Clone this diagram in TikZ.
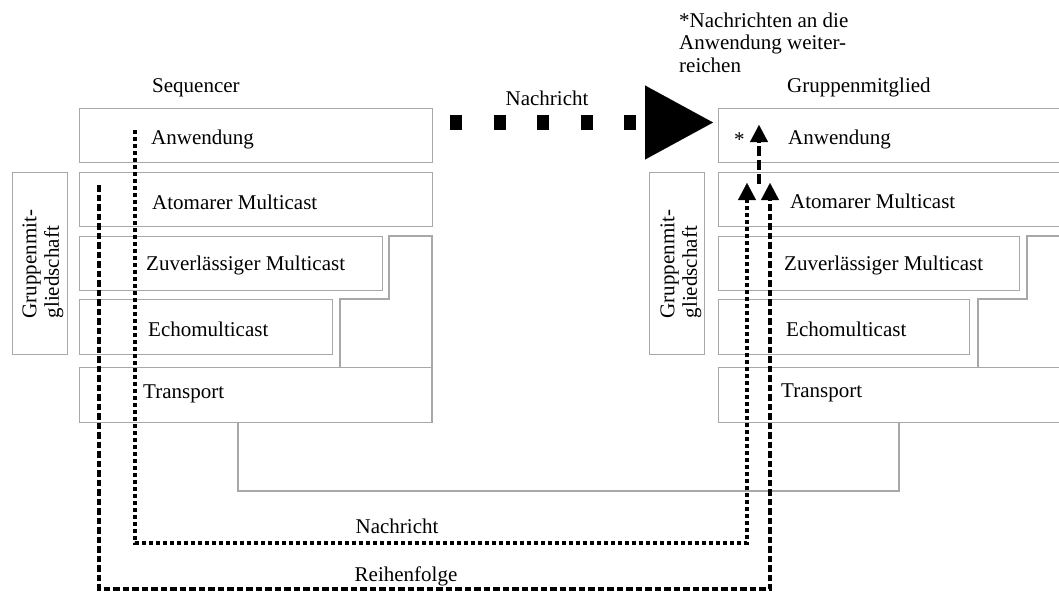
\documentclass[tikz,border=0pt]{standalone}
\usepackage{fontspec}
\setmainfont{Liberation Serif}
\usetikzlibrary{arrows.meta}
\definecolor{boxgray}{RGB}{168,168,168}
\begin{document}
\begin{tikzpicture}[x=1pt,y=-1pt,
  font=\fontsize{21}{22.5}\selectfont,
  layer/.style n args={2}{draw=boxgray, line width=1.2pt, anchor=north west,
    inner sep=0pt, minimum width=#1, minimum height=#2},
  outline/.style={draw=boxgray, line width=1.2pt},
  lbl/.style={anchor=base west, inner sep=0pt},
  clbl/.style={anchor=base, inner sep=0pt},
  sidelbl/.style={rotate=90, align=left, anchor=west, inner sep=0pt},
  msgline/.style={line width=3.5pt, dash pattern=on 4pt off 3pt,
    -{Triangle[width=18pt,length=17pt,line width=0.1pt]}},
  ordline/.style={line width=4pt, dash pattern=on 6.5pt off 3pt,
    -{Triangle[width=18pt,length=17pt,line width=0.1pt]}},
  fwdline/.style={line width=4pt, dash pattern=on 10pt off 4pt,
    -{Triangle[width=18pt,length=17pt,line width=0.1pt]}},
  netline/.style={line width=15pt, dash pattern=on 12pt off 31.5pt,
    -{Triangle[width=74pt,length=68pt,line width=0.1pt]}}]
\useasboundingbox (0,0) rectangle (1059,592);
\clip (0,0) rectangle (1059,592);

% stepped outlines behind the layer stacks
\draw[outline] (340,367) -- (340,299) -- (389,299) -- (389,236) -- (432,236) -- (432,422);
\draw[outline] (978,367) -- (978,299) -- (1027,299) -- (1027,236) -- (1070,236);
\draw[outline] (238,422) -- (238,491) -- (899,491) -- (899,422);

% Sequencer stack
\node[lbl] (seqT) at (152,92) {Sequencer};
\node[layer={353pt}{54pt}] (sAnw) at (79,108) {};
\node[layer={353pt}{54pt}] (sAto) at (79,172) {};
\node[layer={303pt}{54pt}] (sZuv) at (79,236) {};
\node[layer={253pt}{55pt}] (sEcho) at (79,299) {};
\node[layer={353pt}{55pt}] (sTra) at (79,367) {};
\node[layer={55pt}{182pt}] (sGrp) at (12,172) {};
\node[lbl] (sAnwT) at (151,144) {Anwendung};
\node[lbl] (sAtoT) at (152,209) {Atomarer Multicast};
\node[lbl] (sZuvT) at (146,270) {Zuverlässiger Multicast};
\node[lbl] (sEchoT) at (148,336) {Echomulticast};
\node[lbl] (sTraT) at (143,398) {Transport};
\node[sidelbl] (sGrpT) at (43,318.5) {Gruppenmit-\\gliedschaft};

% Gruppenmitglied stack
\node[align=left, anchor=north west, inner sep=0pt] (note) at (679,12.5)
  {*Nachrichten an die\\Anwendung weiter-\\reichen};
\node[lbl] (memT) at (787,92) {Gruppenmitglied};
\node[layer={360pt}{54pt}] (gAnw) at (718,108) {};
\node[layer={360pt}{54pt}] (gAto) at (718,172) {};
\node[layer={301pt}{54pt}] (gZuv) at (718,236) {};
\node[layer={251pt}{55pt}] (gEcho) at (718,299) {};
\node[layer={360pt}{55pt}] (gTra) at (718,367) {};
\node[layer={55pt}{182pt}] (gGrp) at (649,172) {};
\node[lbl] (star) at (734,146) {*};
\node[lbl] (gAnwT) at (788,144) {Anwendung};
\node[lbl] (gAtoT) at (790,208) {Atomarer Multicast};
\node[lbl] (gZuvT) at (784,270) {Zuverlässiger Multicast};
\node[lbl] (gEchoT) at (786,336) {Echomulticast};
\node[lbl] (gTraT) at (781,397) {Transport};
\node[sidelbl] (gGrpT) at (681,318.5) {Gruppenmit-\\gliedschaft};

% network message between the two application layers
\coordinate (netA) at (450,122.5);
\coordinate (netB) at (713,122.5);
\draw[netline] (netA) -- (netB);
\node[clbl] (netT) at (547,105) {Nachricht};

% message path and ordering path up to the atomic multicast layer
\coordinate (msgA) at (135,130);
\coordinate (msgB) at (747,183);
\draw[msgline] (msgA) -- ++(0,413) -| (msgB);
\node[clbl] (msgT) at (397,533) {Nachricht};

\coordinate (ordA) at (99,185);
\coordinate (ordB) at (770,183);
\draw[ordline] (ordA) -- ++(0,404) -| (ordB);
\node[clbl] (ordT) at (406,581) {Reihenfolge};

% delivery to the application
\coordinate (fwdA) at (759,184);
\coordinate (fwdB) at (759,125);
\draw[fwdline] (fwdA) -- (fwdB);
\end{tikzpicture}
\end{document}
